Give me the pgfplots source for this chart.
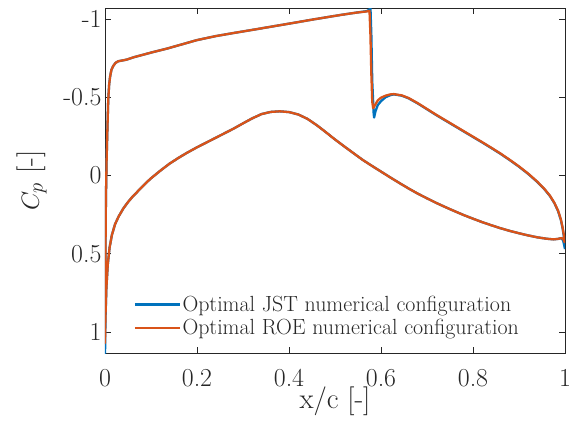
\documentclass[border=0pt]{standalone}
\usepackage{pgfplots}
\pgfplotsset{compat=1.18}
\definecolor{mblue}{rgb}{0,0.447,0.741}
\definecolor{morange}{rgb}{0.85,0.325,0.098}
\definecolor{axgray}{rgb}{0.15,0.15,0.15}
\pgfplotstableread{
x y
1.0 0.43
0.996 0.405
0.992 0.40
0.985 0.405
0.975 0.408
0.96 0.404
0.94 0.395
0.92 0.383
0.90 0.369
0.88 0.354
0.86 0.337
0.84 0.318
0.82 0.298
0.80 0.276
0.78 0.253
0.76 0.228
0.74 0.202
0.72 0.175
0.70 0.146
0.68 0.116
0.66 0.083
0.64 0.048
0.62 0.012
0.60 -0.025
0.58 -0.062
0.56 -0.10
0.54 -0.143
0.52 -0.186
0.50 -0.23
0.48 -0.277
0.46 -0.322
0.44 -0.362
0.42 -0.39
0.40 -0.405
0.38 -0.41
0.36 -0.406
0.34 -0.392
0.32 -0.365
0.30 -0.333
0.28 -0.30
0.26 -0.27
0.24 -0.24
0.22 -0.21
0.20 -0.18
0.18 -0.148
0.16 -0.113
0.14 -0.075
0.12 -0.03
0.10 0.018
0.09 0.045
0.08 0.075
0.07 0.105
0.06 0.135
0.05 0.17
0.04 0.21
0.03 0.26
0.022 0.31
0.015 0.38
0.01 0.46
0.006 0.57
0.003 0.72
0.001 0.9
0.0 1.07
0.0003 0.8
0.001 0.5
0.002 0.15
0.0035 -0.1
0.005 -0.27
0.007 -0.48
0.009 -0.58
0.011 -0.63
0.014 -0.675
0.018 -0.70
0.023 -0.72
0.029 -0.73
0.038 -0.735
0.047 -0.74
0.062 -0.755
0.1 -0.785
0.134 -0.81
0.17 -0.84
0.2 -0.865
0.24 -0.89
0.279 -0.91
0.34 -0.94
0.4 -0.97
0.453 -0.997
0.511 -1.025
0.545 -1.04
0.569 -1.048
0.575 -1.052
0.577 -0.9
0.579 -0.65
0.581 -0.47
0.583 -0.43
0.587 -0.45
0.593 -0.48
0.6 -0.497
0.61 -0.51
0.62 -0.518
0.628 -0.52
0.645 -0.512
0.66 -0.495
0.68 -0.462
0.70 -0.425
0.72 -0.388
0.74 -0.353
0.76 -0.318
0.78 -0.283
0.80 -0.248
0.82 -0.213
0.84 -0.177
0.86 -0.14
0.88 -0.10
0.90 -0.058
0.92 -0.012
0.94 0.04
0.955 0.085
0.967 0.128
0.977 0.175
0.985 0.225
0.991 0.28
0.995 0.335
0.998 0.39
1.0 0.43
}\roe
\pgfplotstableread{
x y
1.0 0.47
0.996 0.415
0.992 0.40
0.985 0.405
0.975 0.408
0.96 0.404
0.94 0.395
0.92 0.383
0.90 0.369
0.88 0.354
0.86 0.337
0.84 0.318
0.82 0.298
0.80 0.276
0.78 0.253
0.76 0.228
0.74 0.202
0.72 0.175
0.70 0.146
0.68 0.116
0.66 0.083
0.64 0.048
0.62 0.012
0.60 -0.025
0.58 -0.062
0.56 -0.10
0.54 -0.143
0.52 -0.186
0.50 -0.23
0.48 -0.277
0.46 -0.322
0.44 -0.362
0.42 -0.39
0.40 -0.405
0.38 -0.41
0.36 -0.406
0.34 -0.392
0.32 -0.365
0.30 -0.333
0.28 -0.30
0.26 -0.27
0.24 -0.24
0.22 -0.21
0.20 -0.18
0.18 -0.148
0.16 -0.113
0.14 -0.075
0.12 -0.03
0.10 0.018
0.09 0.045
0.08 0.075
0.07 0.105
0.06 0.135
0.05 0.17
0.04 0.21
0.03 0.26
0.022 0.31
0.015 0.38
0.01 0.46
0.006 0.57
0.003 0.72
0.001 0.92
0.0 1.16
0.0003 0.8
0.001 0.5
0.002 0.15
0.0035 -0.1
0.005 -0.27
0.007 -0.48
0.009 -0.58
0.011 -0.63
0.014 -0.675
0.018 -0.70
0.023 -0.72
0.029 -0.73
0.038 -0.735
0.047 -0.74
0.062 -0.755
0.1 -0.785
0.134 -0.81
0.17 -0.84
0.2 -0.865
0.24 -0.89
0.279 -0.91
0.34 -0.94
0.4 -0.97
0.453 -0.997
0.511 -1.025
0.545 -1.04
0.569 -1.05
0.575 -1.06
0.577 -1.08
0.579 -0.9
0.581 -0.6
0.584 -0.40
0.585 -0.37
0.588 -0.41
0.593 -0.45
0.6 -0.475
0.61 -0.50
0.62 -0.513
0.628 -0.518
0.645 -0.51
0.66 -0.493
0.68 -0.46
0.70 -0.423
0.72 -0.386
0.74 -0.351
0.76 -0.316
0.78 -0.281
0.80 -0.246
0.82 -0.211
0.84 -0.175
0.86 -0.138
0.88 -0.098
0.90 -0.056
0.92 -0.01
0.94 0.042
0.955 0.087
0.967 0.13
0.977 0.177
0.985 0.228
0.991 0.284
0.995 0.34
0.998 0.40
1.0 0.47
}\jst
\begin{document}
\begin{tikzpicture}
\path[use as bounding box] (-105bp,-77bp) rectangle (464bp,353bp);
\begin{axis}[
 at={(0,0)}, anchor=south west,
 scale only axis, width=460bp, height=345bp,
 xmin=0, xmax=1, ymin=-1.07, ymax=1.134, y dir=reverse,
 axis line style={axgray, line width=0.8bp},
 every tick/.style={axgray, line width=0.8bp},
 tick align=inside, major tick length=6bp,
 xtick={0,0.2,0.4,0.6,0.8,1}, xticklabels={0,0.2,0.4,0.6,0.8,1},
 ytick={-1,-0.5,0,0.5,1}, yticklabels={-1,-0.5,0,0.5,1},
 ticklabel style={font=\fontsize{26}{30}\selectfont, text=axgray},
 xticklabel style={anchor=base, yshift=-33bp},
 xlabel={x/c [-]}, ylabel={$C_p$ [-]},
 every axis x label/.style={at={(axis description cs:0.5,0)}, anchor=base, yshift=-55bp,
   font=\fontsize{29}{34}\selectfont, text=axgray},
 every axis y label/.style={at={(axis description cs:-0.1435,0.5)}, rotate=90, anchor=base,
   font=\fontsize{29}{34}\selectfont, text=axgray},
 legend style={at={(axis description cs:0.062,0.038)}, anchor=south west, draw=none, fill=none,
   inner sep=0pt, font=\fontsize{22}{26}\selectfont, text=axgray, cells={anchor=west},
   nodes={inner xsep=1.5bp, inner ysep=3.25bp}},
 legend image code/.code={\draw[#1] (0bp,0bp) -- (45bp,0bp);},
]
\addplot[mblue, line width=2.3bp, line join=round] table[x=x,y=y] {\jst};
\addlegendentry{Optimal JST numerical configuration}
\addplot[morange, line width=2.3bp, line join=round] table[x=x,y=y] {\roe};
\addlegendentry{Optimal ROE numerical configuration}
\end{axis}
\end{tikzpicture}
\end{document}
